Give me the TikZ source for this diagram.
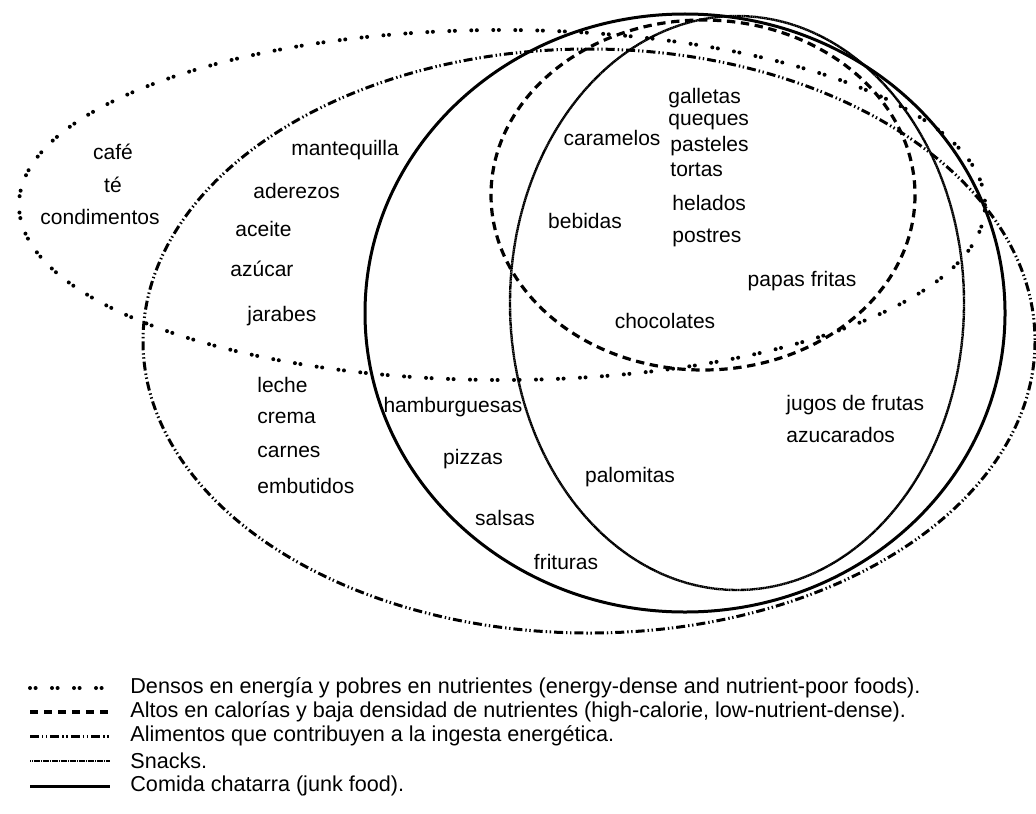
\documentclass[tikz,border=0pt]{standalone}
\usepackage{fontspec}
\setmainfont{Liberation Sans}
\begin{document}
\begin{tikzpicture}[x=0.5pt,y=-0.5pt,
  lbl/.style={font=\fontsize{10.5}{12}\selectfont,inner sep=0},
  key/.style={font=\fontsize{10.8}{12}\selectfont,inner sep=0,anchor=west},
  densos/.style={line width=2pt,line cap=round,dash pattern=on 0pt off 2.8pt on 0pt off 8.2pt},
  altos/.style={line width=1.6pt,dash pattern=on 4.2pt off 2.8pt},
  ingesta/.style={line width=1.5pt,dash pattern=on 4.5pt off 1.5pt on 0.7pt off 1.3pt on 0.7pt off 1.5pt},
  snacks/.style={line width=1.2pt,black,dash pattern=on 0.7pt off 0.2pt},
  chatarra/.style={line width=1.5pt}]
\useasboundingbox (0,0) rectangle (1036,813);
% sets
\draw[densos]   (502,205) ellipse [x radius=483, y radius=175];
\draw[altos]    (703,195) ellipse [x radius=212, y radius=175];
\draw[ingesta]  (589,341) ellipse [x radius=446, y radius=292];
\draw[snacks]   (737,303) ellipse [x radius=227, y radius=287];
\draw[chatarra] (685,313) ellipse [x radius=320, y radius=299];
% foods
\node[lbl] (cafe) at (113,152) {café};
\node[lbl] (te) at (113,185) {té};
\node[lbl] (condimentos) at (100,217) {condimentos};
\node[lbl] (mantequilla) at (345,150) {mantequilla};
\node[lbl,anchor=west] (aderezos) at (253,191) {aderezos};
\node[lbl,anchor=west] (aceite) at (235,229) {aceite};
\node[lbl,anchor=west] (azucar) at (230,269) {azúcar};
\node[lbl,anchor=west] (jarabes) at (247,316) {jarabes};
\node[lbl,anchor=west] (leche) at (257,385) {leche};
\node[lbl,anchor=west] (crema) at (257,418) {crema};
\node[lbl,anchor=west] (carnes) at (257,452) {carnes};
\node[lbl,anchor=west] (embutidos) at (257,486) {embutidos};
\node[lbl] (hamburguesas) at (453,407) {hamburguesas};
\node[lbl] (pizzas) at (473,459) {pizzas};
\node[lbl] (salsas) at (505,518) {salsas};
\node[lbl] (frituras) at (566,562) {frituras};
\node[lbl] (palomitas) at (630,477) {palomitas};
\node[lbl] (caramelos) at (612,138) {caramelos};
\node[lbl,anchor=west] (galletas) at (668,98) {galletas};
\node[lbl,anchor=west] (queques) at (668,122) {queques};
\node[lbl,anchor=west] (pasteles) at (670,146) {pasteles};
\node[lbl,anchor=west] (tortas) at (670,170) {tortas};
\node[lbl,anchor=west] (helados) at (672,203) {helados};
\node[lbl,anchor=west] (postres) at (672,238) {postres};
\node[lbl] (bebidas) at (585,221) {bebidas};
\node[lbl] (papas) at (802,281) {papas fritas};
\node[lbl] (chocolates) at (665,321) {chocolates};
\node[lbl,anchor=west] (jugos) at (786,405) {jugos de frutas};
\node[lbl,anchor=west] (azucarados) at (786,435) {azucarados};
% legend
\coordinate (k1) at (30,688);
\coordinate (k2) at (30,712);
\coordinate (k3) at (30,736);
\coordinate (k4) at (30,761);
\coordinate (k5) at (30,786);
\draw[densos]   (k1) -- ++(80,0);
\draw[altos]    (k2) -- ++(80,0);
\draw[ingesta]  (k3) -- ++(80,0);
\draw[snacks]   (k4) -- ++(80,0);
\draw[chatarra] (k5) -- ++(80,0);
\node[key] (t1) at (130,688) {Densos en energía y pobres en nutrientes (energy-dense and nutrient-poor foods).};
\node[key] (t2) at (130,712) {Altos en calorías y baja densidad de nutrientes (high-calorie, low-nutrient-dense).};
\node[key] (t3) at (130,736) {Alimentos que contribuyen a la ingesta energética.};
\node[key] (t4) at (130,761) {Snacks.};
\node[key] (t5) at (130,786) {Comida chatarra (junk food).};
\end{tikzpicture}
\end{document}
